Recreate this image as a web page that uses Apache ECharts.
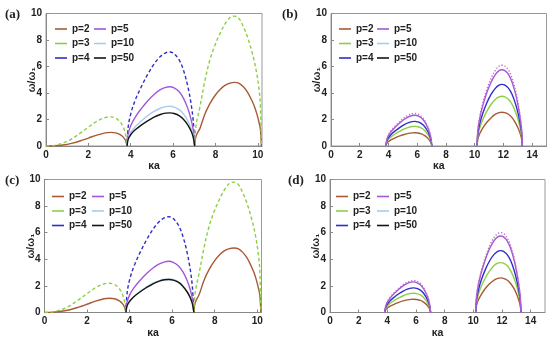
<!DOCTYPE html>
<html><head><meta charset="utf-8">
<script src="https://cdn.jsdelivr.net/npm/echarts@6/dist/echarts.min.js"></script>
<style>html,body{margin:0;padding:0;background:#fff}#c{width:550px;height:342px}</style>
</head><body><div id="c"></div>
<script>
// ---------- data ----------
const panelTitles = ['(a)', '(b)', '(c)', '(d)'];
const legendNames1 = ['p=2', 'p=3', 'p=4'];
const legendNames2 = ['p=5', 'p=10', 'p=50'];
const yTicks = [0, 2, 4, 6, 8, 10];

// x positions of sampled points for each arch
const xArch1 = [0, 0.4, 0.8, 1.2, 1.6, 2.0, 2.4, 2.8, 3.05, 3.3, 3.5, 3.65, 3.75, 3.83];
const xArch2 = [3.83, 3.88, 4.0, 4.2, 4.5, 4.8, 5.1, 5.4, 5.65, 5.85, 6.05, 6.3, 6.5, 6.7, 6.85, 6.95, 7.02];
const xArch3 = [7.02, 7.08, 7.27, 7.5, 7.74, 8.0, 8.22, 8.45, 8.69, 8.9, 9.1, 9.32, 9.52, 9.71, 9.85, 9.95, 10.05, 10.12, 10.17];
const xArch4 = [10.17, 10.22, 10.35, 10.55, 10.85, 11.15, 11.45, 11.7, 11.9, 12.1, 12.35, 12.6, 12.85, 13.05, 13.2, 13.28, 13.32];

// panel (a)
const a_p2_1 = [0, 0.02, 0.08, 0.2, 0.38, 0.6, 0.82, 0.99, 1.03, 0.99, 0.86, 0.67, 0.43, 0];
const a_p3_1 = [0, 0.05, 0.22, 0.52, 0.95, 1.42, 1.86, 2.15, 2.2, 2.1, 1.82, 1.42, 0.92, 0];
const a_p4_2 = [0, 1.42, 2.41, 3.41, 4.47, 5.4, 6.18, 6.75, 7.03, 7.1, 6.96, 6.46, 5.68, 4.47, 3.2, 1.92, 0];
const a_p5_2 = [0, 0.89, 1.52, 2.15, 2.82, 3.4, 3.89, 4.25, 4.43, 4.47, 4.38, 4.07, 3.58, 2.82, 2.01, 1.21, 0];
const a_p10_2 = [0, 0.6, 1.02, 1.44, 1.89, 2.28, 2.61, 2.85, 2.97, 3.0, 2.94, 2.73, 2.4, 1.89, 1.35, 0.81, 0];
const a_p50_2 = [0, 0.5, 0.85, 1.2, 1.58, 1.9, 2.18, 2.38, 2.48, 2.5, 2.45, 2.28, 2.0, 1.58, 1.13, 0.68, 0];
const a_p2_3 = [0, 0.72, 1.33, 2.4, 3.2, 3.85, 4.27, 4.58, 4.75, 4.8, 4.75, 4.47, 4.05, 3.47, 2.95, 2.46, 1.85, 1.3, 0];
const a_p3_3 = [0, 1.5, 2.96, 4.9, 6.5, 7.7, 8.5, 9.2, 9.7, 9.8, 9.65, 9.0, 8.2, 7.2, 6.3, 5.5, 4.4, 3.2, 0];

// panel (c)
const c_p2_1 = [0, 0.02, 0.09, 0.21, 0.4, 0.62, 0.85, 1.03, 1.07, 1.03, 0.89, 0.7, 0.45, 0];
const c_p3_1 = [0, 0.05, 0.22, 0.52, 0.95, 1.42, 1.86, 2.15, 2.2, 2.1, 1.82, 1.42, 0.92, 0];
const c_p4_2 = [0, 1.44, 2.45, 3.46, 4.54, 5.47, 6.26, 6.84, 7.13, 7.2, 7.06, 6.55, 5.76, 4.54, 3.24, 1.94, 0];
const c_p5_2 = [0, 0.77, 1.31, 1.85, 2.43, 2.93, 3.35, 3.66, 3.81, 3.85, 3.77, 3.5, 3.08, 2.43, 1.73, 1.04, 0];
const c_p10_2 = [0, 0.5, 0.86, 1.21, 1.59, 1.92, 2.2, 2.4, 2.5, 2.53, 2.48, 2.3, 2.02, 1.59, 1.14, 0.68, 0];
const c_p50_2 = [0, 0.5, 0.84, 1.19, 1.56, 1.88, 2.16, 2.36, 2.46, 2.48, 2.43, 2.26, 1.98, 1.56, 1.12, 0.67, 0];
const c_p2_3 = [0, 0.73, 1.35, 2.43, 3.24, 3.9, 4.32, 4.63, 4.8, 4.85, 4.8, 4.52, 4.1, 3.51, 2.98, 2.49, 1.87, 1.31, 0];
const c_p3_3 = [0, 1.5, 2.96, 4.9, 6.5, 7.7, 8.5, 9.2, 9.7, 9.8, 9.65, 9.0, 8.2, 7.2, 6.3, 5.5, 4.4, 3.2, 0];

// panel (b)
const b_p2_2 = [0, 0.2, 0.34, 0.48, 0.63, 0.76, 0.87, 0.95, 0.99, 1.0, 0.98, 0.91, 0.8, 0.63, 0.45, 0.27, 0];
const b_p3_2 = [0, 0.3, 0.5, 0.71, 0.93, 1.12, 1.29, 1.41, 1.47, 1.48, 1.45, 1.35, 1.18, 0.93, 0.67, 0.4, 0];
const b_p4_2 = [0, 0.37, 0.63, 0.89, 1.17, 1.41, 1.62, 1.77, 1.84, 1.86, 1.82, 1.69, 1.49, 1.17, 0.84, 0.5, 0];
const b_p5_2 = [0, 0.46, 0.79, 1.11, 1.46, 1.76, 2.02, 2.2, 2.3, 2.32, 2.27, 2.11, 1.86, 1.46, 1.04, 0.63, 0];
const b_dot_2 = [0, 0.49, 0.83, 1.18, 1.54, 1.86, 2.13, 2.33, 2.43, 2.45, 2.4, 2.23, 1.96, 1.54, 1.1, 0.66, 0];
const b_p2_4 = [0, 0.51, 0.92, 1.33, 1.79, 2.14, 2.4, 2.52, 2.55, 2.52, 2.4, 2.14, 1.73, 1.28, 0.82, 0.46, 0];
const b_p3_4 = [0, 0.75, 1.35, 1.95, 2.63, 3.15, 3.53, 3.71, 3.75, 3.71, 3.53, 3.15, 2.55, 1.88, 1.2, 0.68, 0];
const b_p4_4 = [0, 0.93, 1.67, 2.42, 3.26, 3.91, 4.37, 4.6, 4.65, 4.6, 4.37, 3.91, 3.16, 2.33, 1.49, 0.84, 0];
const b_p5_4 = [0, 1.15, 2.07, 2.99, 4.03, 4.83, 5.41, 5.69, 5.75, 5.69, 5.41, 4.83, 3.91, 2.88, 1.84, 1.04, 0];
const b_dot_4 = [0, 1.22, 2.2, 3.17, 4.27, 5.12, 5.73, 6.04, 6.1, 6.04, 5.73, 5.12, 4.15, 3.05, 1.95, 1.1, 0];

// panel (d)
const d_p2_2 = [0, 0.2, 0.34, 0.48, 0.63, 0.76, 0.87, 0.95, 0.99, 1.0, 0.98, 0.91, 0.8, 0.63, 0.45, 0.27, 0];
const d_p3_2 = [0, 0.29, 0.49, 0.7, 0.91, 1.1, 1.26, 1.38, 1.44, 1.45, 1.42, 1.32, 1.16, 0.91, 0.65, 0.39, 0];
const d_p4_2 = [0, 0.37, 0.63, 0.89, 1.17, 1.41, 1.61, 1.76, 1.83, 1.85, 1.81, 1.68, 1.48, 1.17, 0.83, 0.5, 0];
const d_p5_2 = [0, 0.46, 0.78, 1.1, 1.45, 1.75, 2.0, 2.19, 2.28, 2.3, 2.25, 2.09, 1.84, 1.45, 1.04, 0.62, 0];
const d_dot_2 = [0, 0.48, 0.82, 1.15, 1.51, 1.82, 2.09, 2.28, 2.38, 2.4, 2.35, 2.18, 1.92, 1.51, 1.08, 0.65, 0];
const d_p2_4 = [0, 0.52, 0.94, 1.35, 1.82, 2.18, 2.44, 2.57, 2.6, 2.57, 2.44, 2.18, 1.77, 1.3, 0.83, 0.47, 0];
const d_p3_4 = [0, 0.75, 1.35, 1.95, 2.63, 3.15, 3.53, 3.71, 3.75, 3.71, 3.53, 3.15, 2.55, 1.88, 1.2, 0.68, 0];
const d_p4_4 = [0, 0.93, 1.67, 2.42, 3.26, 3.91, 4.37, 4.6, 4.65, 4.6, 4.37, 3.91, 3.16, 2.33, 1.49, 0.84, 0];
const d_p5_4 = [0, 1.15, 2.07, 2.99, 4.03, 4.83, 5.41, 5.69, 5.75, 5.69, 5.41, 4.83, 3.91, 2.88, 1.84, 1.04, 0];
const d_dot_4 = [0, 1.2, 2.16, 3.12, 4.2, 5.04, 5.64, 5.94, 6.0, 5.94, 5.64, 5.04, 4.08, 3.0, 1.92, 1.08, 0];

// ---------- styles ----------
const COL = {
  'p=2': '#a85a34', 'p=3': '#8ccf45', 'p=4': '#2e2ec8',
  'p=5': '#a257d8', 'p=10': '#a9cbec', 'p=50': '#151515', dot: '#c46ccc'
};
const FONT = '"Liberation Sans", Arial, sans-serif';

const grids = [
  {left: 46, top: 13.5, width: 216, height: 132.5},
  {left: 331, top: 13.5, width: 215.5, height: 132.5},
  {left: 44.5, top: 179.5, width: 217, height: 133},
  {left: 330, top: 179.5, width: 215, height: 133}
];
const xMax = [10.2, 15, 10.2, 15];
const titlePos = [[5, 8], [282, 8], [5, 174], [288, 174]];
const legendPos = [ // [col1 left, col2 left, top]
  [50, 89, 17.5], [334, 372, 17.5], [47, 87, 185], [331, 372, 185]
];

function zip(xs, ys) { return xs.map((x, i) => [x, ys[i]]); }
const series = [];
function add(g, name, xs, ys, color, type, z) {
  series.push({
    type: 'line', name: name, xAxisIndex: g, yAxisIndex: g,
    data: zip(xs, ys), showSymbol: false, symbol: 'none', smooth: 0.35,
    clip: true, z: z || 2, silent: true,
    lineStyle: {color: color, width: 1.4, type: type || 'solid'}
  });
}
const DASH = [3.5, 2.5];
const DOT = [1.3, 1.8];
// (a)
add(0, 'p=2', xArch1, a_p2_1, COL['p=2']);
add(0, 'p=3', xArch1, a_p3_1, COL['p=3'], DASH);
add(0, 'p=4', xArch2, a_p4_2, COL['p=4'], DASH);
add(0, 'p=5', xArch2, a_p5_2, COL['p=5']);
add(0, 'p=10', xArch2, a_p10_2, COL['p=10']);
add(0, 'p=50', xArch2, a_p50_2, COL['p=50'], 'solid', 3);
add(0, 'p=2', xArch3, a_p2_3, COL['p=2']);
add(0, 'p=3', xArch3, a_p3_3, COL['p=3'], DASH);
// (c)
add(2, 'p=2', xArch1, c_p2_1, COL['p=2']);
add(2, 'p=3', xArch1, c_p3_1, COL['p=3'], DASH);
add(2, 'p=4', xArch2, c_p4_2, COL['p=4'], DASH);
add(2, 'p=5', xArch2, c_p5_2, COL['p=5']);
add(2, 'p=10', xArch2, c_p10_2, COL['p=10']);
add(2, 'p=50', xArch2, c_p50_2, COL['p=50'], 'solid', 3);
add(2, 'p=2', xArch3, c_p2_3, COL['p=2']);
add(2, 'p=3', xArch3, c_p3_3, COL['p=3'], DASH);
// (b)
add(1, 'p=2', xArch2, b_p2_2, COL['p=2']);
add(1, 'p=3', xArch2, b_p3_2, COL['p=3']);
add(1, 'p=4', xArch2, b_p4_2, COL['p=4']);
add(1, 'p=5', xArch2, b_p5_2, COL['p=5']);
add(1, 'p=10', xArch2, b_dot_2, COL.dot, DOT);
add(1, 'p=2', xArch4, b_p2_4, COL['p=2']);
add(1, 'p=3', xArch4, b_p3_4, COL['p=3']);
add(1, 'p=4', xArch4, b_p4_4, COL['p=4']);
add(1, 'p=5', xArch4, b_p5_4, COL['p=5']);
add(1, 'p=10', xArch4, b_dot_4, COL.dot, DOT);
// (d)
add(3, 'p=2', xArch2, d_p2_2, COL['p=2']);
add(3, 'p=3', xArch2, d_p3_2, COL['p=3']);
add(3, 'p=4', xArch2, d_p4_2, COL['p=4']);
add(3, 'p=5', xArch2, d_p5_2, COL['p=5']);
add(3, 'p=10', xArch2, d_dot_2, COL.dot, DOT);
add(3, 'p=2', xArch4, d_p2_4, COL['p=2']);
add(3, 'p=3', xArch4, d_p3_4, COL['p=3']);
add(3, 'p=4', xArch4, d_p4_4, COL['p=4']);
add(3, 'p=5', xArch4, d_p5_4, COL['p=5']);
add(3, 'p=10', xArch4, d_dot_4, COL.dot, DOT);

const axisLbl = {fontFamily: FONT, fontWeight: 'bold', fontSize: 10, color: '#222'};
const xAxes = grids.map((g, i) => ({
  type: 'value', gridIndex: i, min: 0, max: xMax[i], interval: 2,
  name: 'κa', nameLocation: 'middle', nameGap: 15, nameMoveOverlap: false,
  nameTextStyle: {fontFamily: FONT, fontWeight: 'bold', fontSize: 10.5, color: '#222'},
  axisLine: {show: true, lineStyle: {color: '#888', width: 1}},
  axisTick: {show: true, inside: true, length: 3, lineStyle: {color: '#888'}},
  minorTick: {show: false},
  splitLine: {show: false},
  axisLabel: Object.assign({margin: 4, showMaxLabel: false, formatter: v => (v % 2 === 0 ? String(v) : '')}, axisLbl)
}));
const yAxes = grids.map((g, i) => ({
  type: 'value', gridIndex: i, min: 0, max: 10, interval: 2,
  name: 'ω/ω₁', nameLocation: 'middle', nameGap: 8, nameMoveOverlap: false,
  nameTextStyle: {fontFamily: FONT, fontWeight: 'bold', fontSize: 10.5, color: '#222'},
  axisLine: {show: true, lineStyle: {color: '#888', width: 1}},
  axisTick: {show: true, inside: true, length: 3, lineStyle: {color: '#888'}},
  splitLine: {show: false},
  axisLabel: Object.assign({margin: 4}, axisLbl)
}));

const legends = [];
const legendStyleItem = n => ({name: n, icon: 'rect', itemStyle: {color: COL[n]}});
legendPos.forEach((p, i) => {
  [legendNames1, legendNames2].forEach((names, k) => {
    legends.push({
      orient: 'vertical', left: p[k], top: p[2], itemGap: 1.5,
      itemWidth: 12, itemHeight: 1.6, selectedMode: false,
      textStyle: {fontFamily: FONT, fontWeight: 'bold', fontSize: 10, color: '#222', lineHeight: 13},
      data: names.map(legendStyleItem)
    });
  });
});

const titles = panelTitles.map((t, i) => ({
  text: t, left: titlePos[i][0], top: titlePos[i][1], padding: 0,
  textStyle: {fontFamily: '"Liberation Serif", "Times New Roman", serif', fontWeight: 'bold', fontSize: 13, color: '#222'}
}));

const chart = echarts.init(document.getElementById('c'), null, {renderer: 'canvas'});
chart.setOption({
  animation: false,
  backgroundColor: '#fff',
  title: titles,
  legend: legends,
  grid: grids.map(g => Object.assign({show: true, borderColor: '#999', borderWidth: 1, containLabel: false}, g)),
  xAxis: xAxes,
  yAxis: yAxes,
  series: series
});
</script></body></html>
